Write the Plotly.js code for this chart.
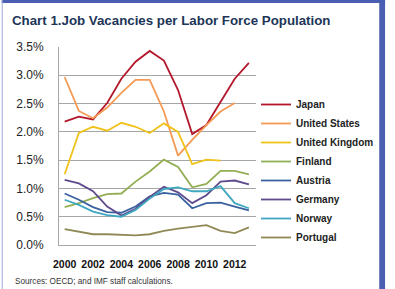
<!DOCTYPE html>
<html>
<head>
<meta charset="utf-8">
<script src="https://cdn.plot.ly/plotly-3.0.1.min.js"></script>
<style>html,body{margin:0;padding:0;background:#fff;}#chart{width:395px;height:289px;}</style>
</head>
<body>
<div id="chart"></div>
<script>
const years = [2000,2001,2002,2003,2004,2005,2006,2007,2008,2009,2010,2011,2012,2013];
const tickYears = [2000,2002,2004,2006,2008,2010,2012];
const tickValues = [0,0.5,1,1.5,2,2.5,3,3.5];
const tickLabels = ["0.0%","0.5%","1.0%","1.5%","2.0%","2.5%","3.0%","3.5%"];

const japan   = [2.18,2.27,2.22,2.51,2.94,3.24,3.43,3.26,2.74,1.96,2.12,2.53,2.94,3.22];
const unitedStates = [2.97,2.37,2.24,2.43,2.69,2.92,2.92,2.36,1.58,1.86,2.12,2.36,2.51];
const unitedKingdom = [1.25,1.98,2.09,2.02,2.16,2.09,1.98,2.15,2.00,1.43,1.51,1.49];
const finland = [0.67,0.74,0.83,0.90,0.91,1.12,1.30,1.51,1.38,1.02,1.08,1.31,1.31,1.25];
const austria = [0.91,0.80,0.67,0.58,0.57,0.68,0.86,0.92,0.89,0.65,0.74,0.75,0.68,0.61];
const germany = [1.15,1.09,0.95,0.68,0.52,0.64,0.85,1.03,0.93,0.74,0.88,1.12,1.14,1.07];
const norway  = [0.80,0.71,0.59,0.53,0.50,0.62,0.82,0.99,1.02,0.95,0.95,1.04,0.74,0.65];
const portugal = [0.28,0.24,0.19,0.19,0.18,0.17,0.19,0.25,0.29,0.32,0.35,0.25,0.21,0.31];

const seriesNames = ["Japan","United States","United Kingdom","Finland","Austria","Germany","Norway","Portugal"];
const seriesValues = [japan,unitedStates,unitedKingdom,finland,austria,germany,norway,portugal];
const seriesColors = ["#B3172B","#F59A55","#F0C21A","#94AE53","#3A62A0","#5E4B8E","#3FA8C0","#8F8A55"];

const traces = seriesNames.map((name,i) => ({
  type: "scatter",
  mode: "lines",
  name: name,
  x: years.slice(0, seriesValues[i].length),
  y: seriesValues[i],
  line: {color: seriesColors[i], width: 1.8},
  hoverinfo: "skip"
}));

const W = 395, H = 289, L = 59, R = 133, T = 47, B = 44;
const pw = W - L - R, ph = H - T - B;
function px2paperX(px){ return (px - L)/pw; }
function px2paperY(py){ return (H - B - py)/ph; }
const frame = "#4A5FB3";

const layout = {
  width: W, height: H,
  paper_bgcolor: "#ffffff",
  plot_bgcolor: "#ffffff",
  margin: {l: L, r: R, t: T, b: B},
  title: {
    text: "<b>Chart 1.Job Vacancies per Labor Force Population</b>",
    font: {family: "Liberation Sans, Arial, sans-serif", size: 13.3, color: "#1C3558"},
    xref: "container", yref: "container",
    x: 12/W, xanchor: "left",
    y: 1 - 20/H, yanchor: "middle"
  },
  xaxis: {
    range: [1999.6, 2013.5],
    tickvals: tickYears,
    ticktext: tickYears.map(String),
    tickfont: {family: "Liberation Sans, Arial, sans-serif", size: 10.5, color: "#111", weight: "bold"},
    showgrid: false, zeroline: false,
    showline: true, linecolor: "#A6A6A6", linewidth: 1,
    ticks: "", ticklabelstandoff: 9,
    fixedrange: true
  },
  yaxis: {
    range: [0, 3.5],
    tickvals: tickValues,
    ticktext: tickLabels,
    tickfont: {family: "Liberation Sans, Arial, sans-serif", size: 12, color: "#222"},
    showgrid: true, gridcolor: "#A6A6A6", gridwidth: 1,
    zeroline: false,
    showline: true, linecolor: "#A6A6A6", linewidth: 1,
    ticks: "", ticklabelstandoff: 12,
    fixedrange: true
  },
  showlegend: true,
  legend: {
    x: 256/W, xref: "container", xanchor: "left",
    y: 1 - 90/H, yref: "container", yanchor: "top",
    font: {family: "Liberation Sans, Arial, sans-serif", size: 10, color: "#222", weight: "bold"},
    bgcolor: "rgba(0,0,0,0)",
    itemwidth: 30,
    tracegroupgap: 0,
    maxheight: 260
  },
  annotations: [{
    text: "Sources: OECD; and IMF staff calculations.",
    xref: "paper", yref: "paper",
    x: px2paperX(12), xanchor: "left",
    y: px2paperY(281), yanchor: "middle",
    showarrow: false,
    font: {family: "Liberation Sans, Arial, sans-serif", size: 8.2, color: "#333"}
  }],
  shapes: [
    {type: "rect", xref: "paper", yref: "paper", x0: px2paperX(0), x1: px2paperX(W), y0: px2paperY(3), y1: px2paperY(0), line: {width: 0}, fillcolor: frame, layer: "above"},
    {type: "rect", xref: "paper", yref: "paper", x0: px2paperX(389), x1: px2paperX(W), y0: px2paperY(H), y1: px2paperY(0), line: {width: 0}, fillcolor: frame, layer: "above"},
    {type: "rect", xref: "paper", yref: "paper", x0: px2paperX(0), x1: px2paperX(1), y0: px2paperY(H), y1: px2paperY(0), line: {width: 0}, fillcolor: "#9AA6D6", layer: "above"}
  ]
};

Plotly.newPlot("chart", traces, layout, {displayModeBar: false, staticPlot: true});
</script>
</body>
</html>
